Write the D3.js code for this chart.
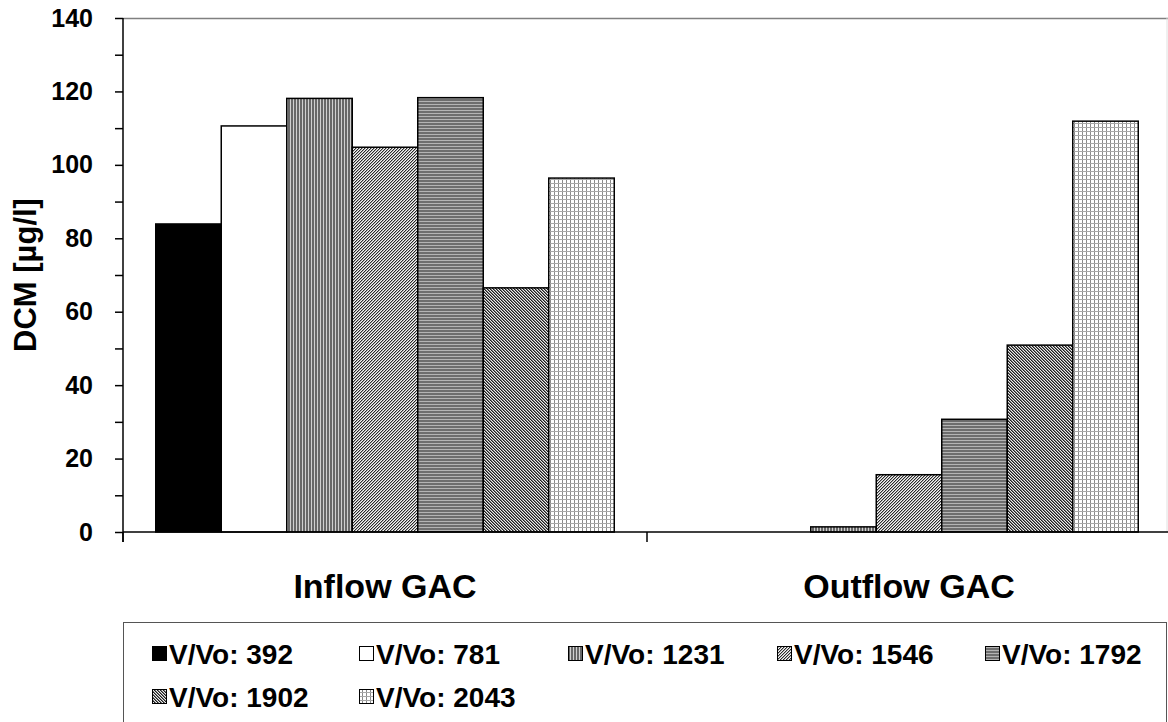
<!DOCTYPE html>
<html>
<head>
<meta charset="utf-8">
<script src="https://cdn.jsdelivr.net/npm/d3@7"></script>
<style>
  html, body { margin: 0; padding: 0; background: #fff; }
  svg { display: block; }
  text { font-family: "Liberation Sans", Arial, sans-serif; font-weight: bold; fill: #000; }
</style>
</head>
<body>
<svg id="chart" width="1168" height="722"></svg>
<script>
// ---- data ----
const categories = ["Inflow GAC", "Outflow GAC"];
const seriesNames = ["V/Vo: 392", "V/Vo: 781", "V/Vo: 1231", "V/Vo: 1546", "V/Vo: 1792", "V/Vo: 1902", "V/Vo: 2043"];
const inflowValues = [83.9, 110.6, 118.1, 104.8, 118.3, 66.5, 96.4];
const outflowValues = [0, 0, 1.4, 15.6, 30.7, 50.9, 111.9];
const yTicks = [0, 20, 40, 60, 80, 100, 120, 140];
const yTitle = "DCM [µg/l]";

const valuesByCategory = { "Inflow GAC": inflowValues, "Outflow GAC": outflowValues };

const svg = d3.select("#chart");
const W = 1168, H = 722;
const plot = { left: 123, top: 18, bottom: 532, right: 1171 };

// ---- patterns ----
const defs = svg.append("defs");
function pat(id, w, h, build) {
  const p = defs.append("pattern").attr("id", id).attr("patternUnits", "userSpaceOnUse")
    .attr("width", w).attr("height", h);
  build(p);
}
function px(p, pts, c) {
  pts.forEach(([x, y]) => p.append("rect").attr("x", x).attr("y", y).attr("width", 1).attr("height", 1).attr("fill", c));
}
// vertical stripes (1231)
pat("p1231", 3, 3, p => {
  p.append("rect").attr("width", 3).attr("height", 3).attr("fill", "#686868");
  p.append("rect").attr("x", 2).attr("width", 1).attr("height", 3).attr("fill", "#d0d0d0");
});
// fine diagonal / (1546)
pat("p1546", 3, 3, p => {
  p.append("rect").attr("width", 3).attr("height", 3).attr("fill", "#f4f4f4");
  px(p, [[0, 2], [1, 1], [2, 0]], "#2a2a2a");
  px(p, [[1, 2], [2, 1], [0, 0]], "#a8a8a8");
});
// horizontal stripes (1792)
pat("p1792", 3, 3, p => {
  p.append("rect").attr("width", 3).attr("height", 3).attr("fill", "#6e6e6e");
  p.append("rect").attr("y", 2).attr("width", 3).attr("height", 1).attr("fill", "#b4b4b4");
});
// fine diagonal \ (1902)
pat("p1902", 3, 3, p => {
  p.append("rect").attr("width", 3).attr("height", 3).attr("fill", "#ececec");
  px(p, [[0, 0], [1, 1], [2, 2]], "#1e1e1e");
  px(p, [[1, 0], [2, 1], [0, 2]], "#7a7a7a");
});
// grid (2043)
pat("p2043", 4, 4, p => {
  p.append("rect").attr("width", 4).attr("height", 4).attr("fill", "#ffffff");
  p.append("rect").attr("x", 3).attr("width", 1).attr("height", 4).attr("fill", "#8a8a8a");
  p.append("rect").attr("y", 3).attr("width", 4).attr("height", 1).attr("fill", "#a8a8a8");
});
const fills = ["#000000", "#ffffff", "url(#p1231)", "url(#p1546)", "url(#p1792)", "url(#p1902)", "url(#p2043)"];
const color = d3.scaleOrdinal().domain(seriesNames).range(fills);

// ---- scales ----
const x0 = d3.scaleBand().domain(categories).range([plot.left, plot.right]).paddingInner(0).paddingOuter(0);
const x1 = d3.scaleBand().domain(seriesNames).range([0, x0.bandwidth()]).paddingInner(0).paddingOuter(0.5);
const y = d3.scaleLinear().domain([0, 140]).range([plot.bottom, plot.top]);

// plot area border (top/right, gray)
svg.append("line").attr("x1", plot.left).attr("x2", W).attr("y1", plot.top + 0.5).attr("y2", plot.top + 0.5)
  .attr("stroke", "#808080").attr("stroke-width", 1.5);
svg.append("line").attr("x1", W - 1).attr("x2", W - 1).attr("y1", plot.top).attr("y2", plot.bottom)
  .attr("stroke", "#e0e0e0").attr("stroke-width", 1);

// ---- bars ----
const groups = svg.append("g").selectAll("g").data(categories).join("g")
  .attr("transform", d => `translate(${x0(d)},0)`);
groups.selectAll("rect")
  .data(c => seriesNames.map((s, i) => ({ s, v: valuesByCategory[c][i] })).filter(d => d.v > 0))
  .join("rect")
  .attr("x", d => x1(d.s))
  .attr("width", x1.bandwidth())
  .attr("y", d => y(d.v))
  .attr("height", d => y(0) - y(d.v))
  .attr("fill", d => color(d.s))
  .attr("stroke", "#000")
  .attr("stroke-width", 1.5);

// ---- y axis ----
const yMinor = d3.range(0, 141, 10);
const yAxis = d3.axisLeft(y).tickValues(yMinor).tickSize(8).tickFormat(d => yTicks.includes(d) ? d : "").tickPadding(22);
const gy = svg.append("g").attr("transform", `translate(${plot.left},0)`).call(yAxis);
gy.select(".domain").attr("stroke", "#000").attr("stroke-width", 1.5).attr("d", `M0,${plot.top}V${plot.bottom + 10}`);
gy.selectAll(".tick line").attr("stroke", "#000").attr("stroke-width", 1.5);
gy.selectAll(".tick text").style("font-size", "25px").style("font-weight", "bold")
  .style("font-family", "'Liberation Sans', Arial, sans-serif").attr("fill", "#000");

// ---- x axis ----
const xAxis = d3.axisBottom(x0).tickSize(0).tickFormat("");
const gx = svg.append("g").attr("transform", `translate(0,${plot.bottom})`).call(xAxis);
gx.select(".domain").attr("stroke", "#000").attr("stroke-width", 1.5).attr("d", `M${plot.left},0H${W}`);
// category boundary ticks
const bounds = categories.map(c => x0(c)).concat([x0(categories[1]) + x0.bandwidth()]);
gx.selectAll(".bnd").data(bounds).join("line").attr("class", "bnd")
  .attr("x1", d => d).attr("x2", d => d).attr("y1", 0).attr("y2", 10)
  .attr("stroke", "#000").attr("stroke-width", 1.5);
// category labels
svg.append("g").selectAll("text").data(categories).join("text")
  .attr("x", d => x0(d) + x0.bandwidth() / 2)
  .attr("y", 598)
  .attr("text-anchor", "middle")
  .style("font-size", "34px")
  .text(d => d);

// y title
svg.append("text")
  .attr("transform", `translate(36,${(plot.top + plot.bottom) / 2}) rotate(-90)`)
  .attr("text-anchor", "middle")
  .style("font-size", "31px")
  .text(yTitle);

// ---- legend ----
const legend = svg.append("g");
legend.append("rect").attr("x", 123.5).attr("y", 622.5).attr("width", 1043).attr("height", 120)
  .attr("fill", "#fff").attr("stroke", "#555").attr("stroke-width", 1);
const colX = [152, 359, 568, 777, 985];
const rowY = [654, 697];
const items = legend.selectAll("g.item").data(seriesNames).join("g").attr("class", "item")
  .attr("transform", (d, i) => `translate(${colX[i % 5]},${rowY[Math.floor(i / 5)]})`);
items.append("rect").attr("x", 0.5).attr("y", -7.5).attr("width", 14).attr("height", 14)
  .attr("fill", d => color(d)).attr("stroke", "#000").attr("stroke-width", 1);
items.append("text").attr("x", 17).attr("y", 0).attr("dy", "0.36em")
  .style("font-size", "28px")
  .text(d => d);
</script>
</body>
</html>
